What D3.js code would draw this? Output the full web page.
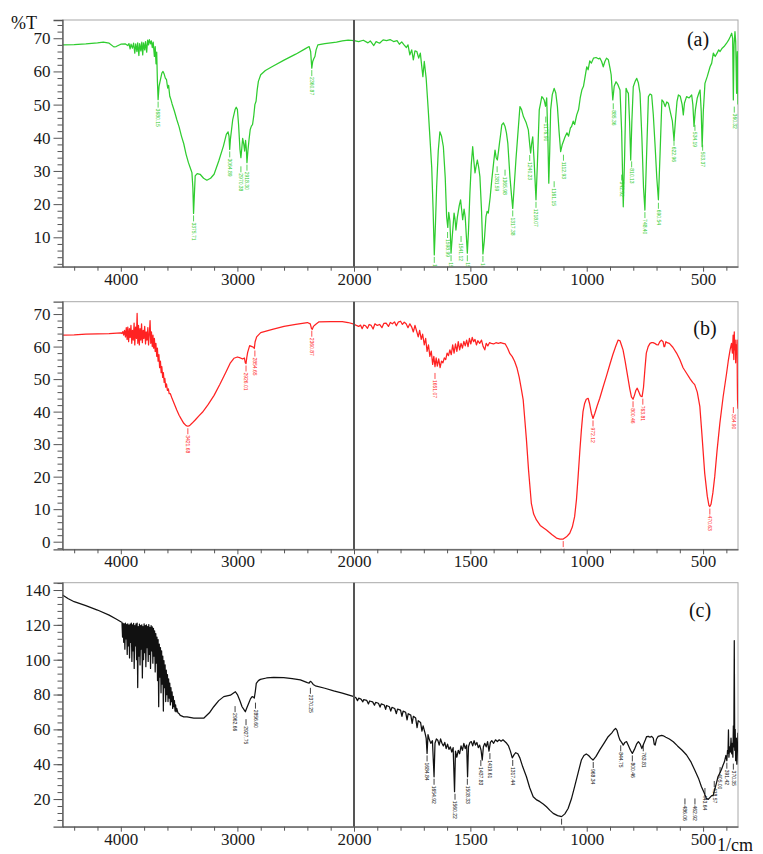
<!DOCTYPE html>
<html>
<head>
<meta charset="utf-8">
<script src="https://cdn.jsdelivr.net/npm/d3@7"></script>
<style>
  body { margin: 0; background: #fff; }
  text { font-family: "Liberation Serif", "Times New Roman", serif; }
</style>
</head>
<body>
<svg id="chart" width="763" height="854"></svg>
<script>
// wavenumber (1/cm), %T
const specA = [
  [4500, 68.0], [4400, 68.1], [4300, 68.3], [4200, 68.6], [4150, 68.8], [4100, 68.5], [4060, 67.4], [4040, 67.5],
  [4000, 68.2], [3960, 68.3], [3940, 67.8], [3930, 68.4], [3920, 66.8], [3912, 68.2], [3900, 67.0], [3890, 68.5],
  [3880, 65.5], [3872, 68.3], [3862, 66.0], [3855, 68.6], [3845, 64.8], [3838, 68.4], [3828, 66.2], [3820, 68.8],
  [3812, 65.0], [3805, 68.6], [3795, 66.5], [3788, 69.0], [3778, 65.8], [3770, 69.4], [3762, 68.0], [3755, 69.6],
  [3745, 68.3], [3738, 69.2], [3730, 67.2], [3722, 68.8], [3712, 64.5], [3705, 67.5], [3698, 62.3], [3692, 65.8],
  [3686, 57.0], [3680, 51.5], [3672, 55.5], [3660, 57.5], [3648, 59.5], [3638, 60.0], [3628, 59.2], [3618, 58.0],
  [3608, 57.5], [3598, 55.0], [3590, 55.8], [3580, 52.5], [3570, 51.5], [3560, 50.2], [3540, 48.0], [3520, 45.5],
  [3500, 43.3], [3480, 40.5], [3460, 38.2], [3440, 35.0], [3420, 32.5], [3400, 30.5], [3390, 29.5], [3382, 25.0],
  [3376, 17.2], [3370, 22.0], [3362, 28.5], [3345, 29.2], [3320, 29.0], [3290, 27.8], [3262, 27.2], [3230, 27.8],
  [3200, 29.0], [3160, 33.0], [3120, 37.5], [3095, 41.0], [3080, 41.8], [3072, 40.5], [3066, 36.5], [3060, 39.5],
  [3040, 45.5], [3020, 48.5], [3010, 49.2], [3000, 48.5], [2990, 44.0], [2978, 36.5], [2970, 34.0], [2962, 37.0],
  [2955, 39.8], [2945, 38.0], [2938, 36.0], [2930, 39.2], [2924, 37.0], [2918, 32.5], [2910, 36.0], [2900, 39.5],
  [2890, 42.5], [2880, 43.5], [2870, 44.0], [2860, 46.5], [2850, 50.0], [2840, 51.0], [2830, 54.5], [2820, 57.0],
  [2800, 59.0], [2760, 60.3], [2700, 61.5], [2600, 63.4], [2500, 65.2], [2420, 66.8], [2385, 67.5], [2372, 66.0],
  [2362, 61.0], [2354, 63.0], [2345, 63.8], [2335, 64.5], [2325, 66.5], [2310, 68.0], [2250, 68.4], [2150, 68.8],
  [2100, 69.2], [2050, 69.4], [2000, 69.3],
  [1980, 69.0], [1960, 69.4], [1940, 68.6], [1930, 69.2], [1915, 67.8], [1905, 69.0], [1890, 68.5], [1875, 69.5],
  [1860, 69.3], [1845, 69.6], [1830, 69.0], [1815, 69.3], [1805, 68.2], [1795, 68.9], [1785, 68.0], [1775, 67.2],
  [1768, 68.0], [1760, 65.0], [1752, 66.5], [1745, 63.5], [1738, 66.2], [1730, 66.0], [1722, 64.0], [1715, 65.5],
  [1708, 61.0], [1704, 58.4], [1698, 63.0], [1690, 58.0], [1681, 48.4], [1672, 38.0], [1666, 31.0], [1660, 18.0],
  [1655, 4.7], [1650, 14.0], [1645, 25.0], [1638, 36.0], [1631, 41.8], [1624, 40.5], [1616, 37.3], [1608, 28.0],
  [1602, 16.2], [1597, 13.0], [1593, 17.5], [1588, 15.0], [1583, 5.2], [1578, 10.0], [1570, 17.3], [1566, 15.5],
  [1562, 12.2], [1556, 16.0], [1548, 19.5], [1542, 21.3], [1537, 18.0], [1533, 15.3], [1527, 18.5], [1522, 16.0],
  [1517, 10.0], [1513, 5.2], [1508, 12.0], [1502, 23.3], [1496, 32.0], [1490, 37.3], [1485, 33.0], [1480, 29.4],
  [1475, 31.5], [1470, 33.3], [1464, 31.0], [1459, 28.3], [1452, 18.0], [1446, 5.0], [1440, 9.0], [1433, 16.2],
  [1428, 17.8], [1423, 17.3], [1415, 22.0], [1408, 27.3], [1400, 32.5], [1394, 36.3], [1389, 34.0], [1384, 33.3],
  [1379, 36.0], [1375, 38.3], [1370, 41.0], [1365, 43.9], [1358, 44.5], [1351, 43.4], [1345, 41.5], [1339, 38.3],
  [1330, 28.3], [1323, 22.5], [1318, 18.7], [1312, 25.0], [1304, 33.6], [1295, 42.0], [1287, 49.4], [1280, 48.5],
  [1272, 46.4], [1260, 44.5], [1251, 42.4], [1245, 38.0], [1241, 35.4], [1237, 38.0], [1232, 40.3], [1226, 33.0],
  [1218, 21.3], [1212, 32.0], [1204, 48.4], [1198, 50.5], [1193, 52.4], [1188, 52.0], [1183, 51.4], [1177, 49.5],
  [1172, 52.0], [1167, 40.0], [1163, 26.3], [1159, 36.0], [1155, 48.4], [1148, 53.0], [1140, 54.9], [1133, 53.5],
  [1126, 49.4], [1119, 42.0], [1112, 35.8], [1105, 38.0], [1093, 40.3], [1085, 41.5], [1078, 40.5], [1070, 43.0],
  [1065, 43.4], [1058, 45.0], [1052, 44.0], [1043, 46.9], [1035, 48.5], [1028, 52.0], [1021, 54.4], [1014, 55.5],
  [1008, 58.0], [1000, 61.4], [994, 60.5], [987, 63.2], [980, 62.5], [971, 64.0], [960, 64.2], [950, 63.8],
  [943, 64.0], [936, 63.0], [929, 61.4], [922, 63.0], [915, 64.0], [907, 63.5], [900, 61.0], [895, 59.0],
  [888, 51.4], [882, 55.5], [874, 56.9], [866, 56.0], [857, 54.4], [850, 42.0], [843, 19.2], [837, 35.0],
  [831, 54.9], [826, 54.0], [821, 53.4], [816, 45.0], [811, 33.3], [806, 45.0], [800, 55.4], [792, 57.0],
  [785, 57.9], [778, 56.5], [771, 53.4], [763, 40.0], [756, 25.0], [750, 18.2], [744, 32.0], [735, 52.4],
  [728, 53.2], [721, 52.9], [714, 47.0], [706, 37.3], [699, 28.0], [692, 21.3], [685, 35.0], [677, 51.4],
  [670, 50.8], [663, 49.4], [656, 50.8], [649, 50.4], [640, 47.5], [632, 45.0], [625, 39.3], [618, 46.0],
  [612, 51.0], [606, 52.9], [598, 52.5], [590, 50.0], [585, 46.9], [580, 50.5], [571, 52.4], [560, 52.0],
  [549, 52.9], [544, 50.0], [539, 43.4], [533, 48.5], [525, 52.0], [518, 53.5], [513, 54.4], [508, 48.0],
  [504, 37.3], [499, 48.0], [492, 56.4], [482, 58.5], [470, 61.4], [463, 62.5], [456, 65.5], [448, 64.5],
  [440, 65.5], [433, 66.5], [427, 66.0], [418, 67.0], [410, 67.5], [399, 68.5], [390, 69.5], [383, 70.5],
  [377, 71.5], [373, 70.0], [370, 51.4], [367, 68.0], [363, 72.0], [360, 69.0], [356, 53.4], [353, 66.0],
  [350, 50.0]
];

const specB = [
  [4500, 63.5], [4400, 63.6], [4300, 63.8], [4200, 63.9], [4100, 64.0], [4000, 64.2], [3990, 64.0], [3982, 64.6],
  [3975, 63.5], [3968, 65.0], [3960, 63.0], [3953, 65.8], [3946, 62.2], [3940, 66.0], [3933, 61.5], [3926, 65.5],
  [3920, 62.8], [3913, 66.5], [3906, 61.0], [3900, 65.0], [3893, 62.0], [3886, 67.2], [3880, 60.5], [3873, 66.0],
  [3866, 62.5], [3860, 70.2], [3854, 61.0], [3848, 66.5], [3841, 60.5], [3835, 65.5], [3828, 62.0], [3822, 67.0],
  [3815, 61.2], [3808, 65.0], [3802, 62.5], [3795, 66.2], [3788, 60.8], [3782, 64.5], [3775, 62.0], [3768, 65.8],
  [3762, 60.5], [3755, 64.0], [3749, 68.0], [3743, 61.0], [3737, 64.5], [3730, 60.0], [3724, 63.5], [3718, 59.5],
  [3712, 62.5], [3705, 58.5], [3699, 61.0], [3692, 57.0], [3686, 59.5], [3680, 55.5], [3673, 57.5], [3667, 53.5],
  [3660, 55.5], [3654, 52.0], [3648, 53.8], [3641, 50.5], [3635, 52.0], [3628, 49.0], [3622, 50.2], [3615, 47.5],
  [3608, 48.5], [3600, 46.5], [3592, 47.0], [3585, 45.5], [3575, 45.5], [3560, 44.0], [3540, 42.3], [3520, 40.5],
  [3500, 38.9], [3480, 37.6], [3460, 36.4], [3440, 35.7], [3425, 35.5], [3410, 35.7], [3390, 36.4], [3360, 37.5],
  [3330, 38.7], [3300, 39.8], [3250, 42.2], [3200, 45.0], [3150, 48.4], [3100, 52.0], [3060, 55.0], [3030, 56.4],
  [3000, 56.8], [2975, 56.5], [2955, 56.2], [2940, 56.5], [2932, 55.0], [2926, 54.8], [2920, 56.5], [2912, 58.2],
  [2895, 60.3], [2875, 60.0], [2862, 59.8], [2855, 59.4], [2848, 61.5], [2835, 63.0], [2800, 64.3], [2700, 65.3],
  [2600, 66.2], [2500, 66.8], [2400, 67.4], [2375, 67.0], [2365, 65.6], [2358, 65.3], [2348, 66.2], [2330, 66.8],
  [2300, 67.6], [2200, 67.7], [2100, 67.7], [2050, 67.4], [2000, 66.9],
  [1990, 66.5], [1980, 66.2], [1972, 66.6], [1965, 65.5], [1958, 66.6], [1950, 66.4], [1942, 65.6], [1935, 66.8],
  [1926, 66.5], [1918, 65.4], [1910, 67.0], [1900, 66.5], [1890, 66.8], [1880, 65.8], [1872, 67.1], [1862, 67.2],
  [1852, 66.2], [1844, 67.4], [1835, 67.0], [1826, 67.6], [1818, 66.4], [1810, 67.5], [1800, 67.8], [1792, 66.8],
  [1784, 67.5], [1776, 67.0], [1768, 65.8], [1760, 67.0], [1752, 66.0], [1745, 64.5], [1738, 66.5], [1731, 64.8],
  [1724, 63.0], [1718, 65.0], [1711, 62.2], [1705, 63.8], [1698, 60.5], [1692, 62.5], [1686, 58.5], [1680, 60.5],
  [1674, 57.0], [1668, 58.6], [1662, 54.5], [1657, 57.0], [1652, 53.8], [1647, 56.5], [1642, 54.0], [1636, 56.2],
  [1630, 53.5], [1624, 55.5], [1618, 55.0], [1612, 56.5], [1606, 56.0], [1600, 58.0], [1594, 57.2], [1588, 59.0],
  [1582, 57.5], [1576, 60.5], [1570, 58.0], [1564, 60.8], [1558, 58.5], [1552, 61.5], [1546, 59.0], [1540, 61.0],
  [1534, 59.5], [1528, 61.6], [1522, 60.2], [1516, 62.0], [1510, 60.0], [1504, 62.5], [1498, 60.8], [1492, 62.8],
  [1486, 61.5], [1480, 62.2], [1474, 60.5], [1468, 61.8], [1460, 61.0], [1452, 62.0], [1445, 60.0], [1438, 59.0],
  [1432, 61.0], [1425, 60.2], [1418, 61.2], [1410, 61.0], [1400, 60.8], [1390, 61.2], [1380, 61.0], [1370, 61.2],
  [1360, 61.0], [1350, 60.8], [1340, 59.5], [1330, 57.8], [1320, 56.9], [1310, 55.5], [1300, 53.5], [1290, 50.5],
  [1280, 46.5], [1273, 43.6], [1266, 37.5], [1259, 31.3], [1250, 22.0], [1238, 11.8], [1228, 8.5], [1216, 6.7],
  [1200, 5.0], [1185, 4.2], [1173, 3.6], [1150, 2.2], [1130, 1.1], [1115, 0.8], [1101, 0.8], [1087, 1.5],
  [1073, 2.6], [1062, 4.5], [1052, 7.7], [1044, 13.0], [1037, 20.0], [1030, 27.5], [1023, 34.3], [1016, 40.0],
  [1009, 42.5], [1002, 43.8], [994, 44.1], [988, 42.5], [980, 39.5], [973, 37.9], [965, 39.5], [955, 41.8],
  [944, 44.1], [930, 47.5], [915, 51.0], [901, 54.4], [888, 57.5], [875, 60.2], [865, 62.0], [857, 61.8],
  [851, 60.5], [844, 59.0], [835, 55.5], [828, 52.5], [822, 50.0], [815, 47.0], [808, 44.5], [801, 43.8],
  [795, 45.0], [789, 46.5], [783, 47.2], [776, 46.0], [769, 44.8], [762, 44.6], [756, 47.5], [750, 53.0],
  [744, 58.0], [736, 60.0], [728, 61.0], [721, 61.2], [715, 61.2], [708, 61.0], [700, 60.6], [693, 60.5],
  [686, 61.5], [679, 62.0], [672, 61.5], [668, 60.0], [665, 60.0], [660, 61.5], [655, 61.2], [645, 61.0],
  [630, 59.8], [614, 58.0], [600, 56.0], [586, 53.5], [571, 51.8], [555, 50.0], [545, 49.0], [536, 48.3],
  [525, 46.0], [514, 41.6], [505, 33.0], [493, 21.0], [482, 14.0], [475, 11.2], [471, 10.8], [466, 11.5],
  [458, 15.0], [450, 20.0], [440, 28.0], [428, 36.4], [414, 44.5], [399, 51.8], [392, 55.5], [384, 59.0],
  [378, 61.0], [374, 58.0], [371, 63.5], [368, 56.0], [366, 64.5], [364, 59.0], [362, 62.0], [360, 55.0],
  [358, 60.5], [356, 58.0], [354, 62.0], [353, 50.0], [352, 43.6], [350, 40.9]
];

const specC = [
  [4500, 137.1], [4450, 135.0], [4400, 133.3], [4300, 131.0], [4200, 128.5], [4100, 125.6], [4040, 123.4], [4000, 121.8],
  [3990, 121.5], [3985, 113.0], [3980, 120.8], [3975, 110.0], [3970, 120.5], [3965, 106.0], [3960, 121.0], [3955, 112.0],
  [3950, 120.2], [3945, 103.0], [3940, 120.6], [3935, 108.0], [3930, 119.8], [3925, 101.0], [3920, 120.4], [3915, 110.0],
  [3910, 121.0], [3905, 99.0], [3900, 120.0], [3895, 105.0], [3890, 120.8], [3885, 95.0], [3880, 119.5], [3875, 108.0],
  [3870, 120.5], [3865, 100.0], [3860, 121.0], [3855, 84.0], [3850, 119.0], [3845, 102.0], [3840, 120.4], [3835, 97.0],
  [3830, 119.6], [3825, 106.0], [3820, 120.0], [3815, 89.5], [3810, 119.0], [3805, 100.0], [3800, 120.5], [3795, 104.0],
  [3790, 119.5], [3785, 96.0], [3780, 120.0], [3775, 107.0], [3770, 119.0], [3765, 99.0], [3760, 120.2], [3755, 103.0],
  [3750, 118.5], [3745, 95.0], [3740, 119.5], [3735, 105.0], [3730, 118.8], [3725, 98.0], [3720, 118.0], [3715, 102.0],
  [3710, 116.5], [3705, 93.0], [3700, 115.0], [3695, 98.0], [3690, 113.0], [3685, 88.0], [3680, 111.5], [3675, 73.0],
  [3670, 109.0], [3665, 90.0], [3660, 107.0], [3655, 81.0], [3650, 105.0], [3645, 86.0], [3640, 102.0], [3635, 70.5],
  [3630, 99.5], [3625, 84.0], [3620, 97.0], [3615, 76.0], [3610, 94.0], [3605, 80.0], [3600, 91.5], [3595, 76.0],
  [3590, 89.0], [3585, 78.0], [3580, 86.5], [3575, 74.0], [3570, 84.0], [3565, 76.0], [3560, 81.5], [3555, 72.0],
  [3550, 79.0], [3545, 73.0], [3540, 76.5], [3535, 70.5], [3530, 74.0], [3525, 70.0], [3520, 72.0], [3510, 69.5],
  [3500, 69.0], [3490, 68.0], [3475, 67.6], [3460, 67.2], [3432, 67.2], [3374, 66.4], [3289, 66.4], [3240, 69.5],
  [3203, 73.0], [3160, 76.5], [3117, 78.8], [3060, 79.6], [3030, 81.0], [3017, 81.6], [3000, 80.0], [2980, 76.7],
  [2960, 73.0], [2945, 71.5], [2932, 70.1], [2918, 72.5], [2903, 75.0], [2888, 77.5], [2874, 78.8], [2862, 78.5],
  [2855, 78.0], [2846, 82.0], [2838, 86.4], [2820, 88.0], [2803, 88.7], [2750, 89.5], [2689, 89.9], [2603, 89.7],
  [2530, 89.2], [2460, 88.4], [2400, 86.8], [2385, 86.6], [2375, 87.6], [2365, 87.2], [2350, 85.8], [2331, 85.0],
  [2250, 83.6], [2174, 82.1], [2100, 80.8], [2050, 79.8], [2000, 78.8],
  [1992, 78.2], [1985, 76.5], [1980, 77.9], [1970, 77.4], [1962, 75.8], [1958, 77.1], [1945, 76.6], [1938, 74.6],
  [1933, 76.3], [1920, 75.8], [1912, 73.9], [1907, 75.5], [1895, 75.0], [1888, 72.8], [1883, 74.6], [1870, 74.0],
  [1864, 71.5], [1860, 73.7], [1848, 73.0], [1842, 70.5], [1837, 72.6], [1825, 72.0], [1818, 69.0], [1813, 71.6],
  [1800, 71.0], [1794, 67.5], [1789, 70.5], [1778, 69.8], [1772, 65.5], [1767, 69.0], [1756, 68.2], [1750, 63.5],
  [1745, 67.5], [1735, 66.5], [1729, 61.0], [1724, 65.0], [1714, 64.0], [1708, 59.0], [1703, 62.0], [1695, 58.0],
  [1690, 55.0], [1686, 46.2], [1682, 57.0], [1676, 54.0], [1670, 52.0], [1663, 53.5], [1656, 32.8], [1652, 52.0],
  [1646, 54.5], [1640, 53.8], [1634, 51.0], [1628, 54.5], [1622, 52.0], [1616, 50.5], [1610, 52.5], [1604, 49.0],
  [1598, 51.5], [1592, 48.5], [1586, 50.0], [1580, 47.0], [1574, 49.5], [1568, 24.2], [1564, 47.5], [1558, 44.0],
  [1552, 48.0], [1546, 46.0], [1540, 50.5], [1534, 48.0], [1528, 52.0], [1522, 49.0], [1516, 51.0], [1512, 32.8],
  [1508, 50.0], [1502, 52.5], [1496, 53.0], [1490, 50.5], [1484, 53.5], [1478, 51.0], [1472, 52.5], [1466, 49.5],
  [1460, 51.0], [1454, 48.0], [1449, 42.4], [1444, 50.0], [1438, 52.0], [1432, 50.0], [1426, 53.0], [1420, 47.5],
  [1414, 52.5], [1408, 53.5], [1400, 52.0], [1392, 54.0], [1384, 53.0], [1376, 54.0], [1368, 53.2], [1360, 54.0],
  [1352, 53.0], [1344, 52.0], [1336, 50.5], [1328, 47.5], [1320, 43.6], [1312, 45.5], [1305, 46.6], [1296, 46.0],
  [1287, 43.5], [1275, 38.5], [1259, 32.8], [1245, 26.5], [1230, 21.3], [1215, 19.5], [1201, 18.5], [1187, 17.2],
  [1173, 15.6], [1158, 13.5], [1144, 11.8], [1125, 10.5], [1108, 9.9], [1094, 11.5], [1080, 14.6], [1066, 20.0],
  [1052, 27.1], [1037, 35.0], [1023, 42.4], [1012, 45.0], [1002, 45.9], [992, 45.0], [982, 43.5], [973, 42.4],
  [960, 44.5], [944, 48.2], [926, 52.0], [908, 55.8], [892, 58.0], [884, 59.5], [876, 60.6], [870, 59.5],
  [863, 56.0], [857, 53.8], [850, 52.5], [843, 51.0], [836, 52.5], [829, 53.0], [822, 51.0], [812, 48.0],
  [804, 46.2], [795, 48.5], [786, 51.5], [778, 52.9], [770, 51.5], [763, 49.0], [756, 51.5], [748, 54.0],
  [743, 55.8], [735, 56.0], [728, 55.5], [721, 56.0], [714, 55.0], [710, 51.5], [706, 51.0], [700, 54.5],
  [693, 56.0], [685, 56.3], [678, 56.5], [671, 56.3], [660, 55.5], [645, 54.5], [628, 52.9], [610, 50.5],
  [590, 48.0], [571, 45.3], [553, 41.5], [536, 36.7], [520, 32.0], [507, 27.1], [495, 23.5], [486, 20.4],
  [478, 19.8], [470, 21.0], [463, 22.0], [457, 22.0], [450, 25.5], [443, 29.0], [436, 32.8], [428, 35.0],
  [421, 37.0], [414, 39.5], [408, 41.5], [402, 45.0], [398, 42.0], [395, 48.0], [393, 46.2], [391, 59.7],
  [389, 44.0], [386, 50.0], [383, 47.0], [380, 55.0], [377, 46.0], [374, 52.0], [372, 44.0], [370, 62.0],
  [368, 50.0], [366, 111.0], [364, 48.0], [362, 60.0], [360, 42.0], [357, 55.0], [355, 40.0], [352, 50.0],
  [350, 58.0]
];

// peak annotations: wavenumber, %T where the marker starts, printed value
const labelsA = [
  [3680, 51.5, '3680.15'], [3376, 17.2, '3375.71'], [3066, 36.5, '3064.89'], [2970, 32.0, '2970.38'],
  [2918, 32.5, '2918.30'], [2362, 61.0, '2360.87'], [1655, 4.7, '1655.15'], [1598, 12.2, '1598.99'],
  [1583, 5.2, '1583.56'], [1540, 11.0, '1541.12'], [1513, 5.2, '1512.19'], [1446, 5.0, '1444.68'],
  [1385, 32.0, '1381.59'], [1351, 31.0, '1365.98'], [1318, 18.7, '1317.38'], [1245, 35.4, '1240.23'],
  [1218, 21.3, '1218.07'], [1176, 47.0, '1176.90'], [1140, 27.5, '1161.15'], [1100, 35.5, '1112.93'],
  [886, 51.0, '885.36'], [850, 29.5, '842.92'], [807, 33.5, '810.13'], [750, 18.2, '748.40'],
  [692, 21.0, '690.54'], [625, 40.0, '622.96'], [535, 44.5, '534.19'], [502, 38.5, '503.37'],
  [366, 50.0, '360.32']
];
const labelsB = [
  [3425, 35.5, '3421.68'], [2926, 54.8, '2926.01'], [2850, 59.4, '2854.65'], [2362, 65.5, '2360.87'],
  [1652, 52.5, '1651.07'], [1101, 0.8, '1101.35'], [973, 37.9, '972.12'], [801, 43.8, '800.46'],
  [759, 44.6, '763.81'], [471, 10.8, '470.63'], [370, 42.0, '354.90']
];
const labelsC = [
  [3020, 74.5, '2962.66'], [2926, 67.0, '2927.75'], [2845, 76.5, '2856.60'], [2374, 85.0, '2370.25'],
  [1686, 46.2, '1684.84'], [1656, 32.8, '1654.92'], [1566, 24.2, '1560.22'], [1513, 32.8, '1508.33'],
  [1455, 43.5, '1437.83'], [1416, 47.5, '1419.61'], [1318, 43.6, '1317.44'], [1108, 9.9, '1103.21'],
  [972, 42.4, '968.34'], [854, 52.0, '844.75'], [804, 46.2, '800.46'], [757, 52.0, '763.81'],
  [578, 21.5, '486.06'], [535, 21.5, '462.92'], [492, 27.5, '443.64'], [452, 31.5, '418.57'],
  [427, 39.5, '405.00'], [398, 42.0, '391.42'], [370, 41.5, '370.35']
];

const xTicks = [4000, 3000, 2000, 1500, 1000, 500];
const yTicksA = [10, 20, 30, 40, 50, 60, 70];
const yTicksB = [0, 10, 20, 30, 40, 50, 60, 70];
const yTicksC = [20, 40, 60, 80, 100, 120, 140];

const svg = d3.select('#chart');
const left = 62.5;
const right = 738;

// broken axis: 4500-2000 and 2000-350 share the width, right half stretched 2x
const x = d3.scaleLinear()
  .domain([4500, 2000, 350])
  .range([left, 354, right]);

const xMinor = d3.range(4400, 2000, -200).filter((d) => d % 1000 !== 0)
  .concat(d3.range(1900, 350, -100).filter((d) => d % 500 !== 0));

const panels = [
  { key: 'a', data: specA, labels: labelsA, color: '#2fcc2f', top: 20, bottom: 266.7,
    domain: [1.14, 75.5], ticks: yTicksA, minor: d3.range(2, 76, 2), tag: '(a)', tagX: 698, tagY: 46 },
  { key: 'b', data: specB, labels: labelsB, color: '#ff2222', top: 301.7, bottom: 549.3,
    domain: [-2.34, 73.8], ticks: yTicksB, minor: d3.range(-2, 74, 2), tag: '(b)', tagX: 705, tagY: 335 },
  { key: 'c', data: specC, labels: labelsC, color: '#111111', top: 582.7, bottom: 826.7,
    domain: [4.13, 144.2], ticks: yTicksC, minor: d3.range(8, 145, 4), tag: '(c)', tagX: 700, tagY: 617 },
];

const serif = '"Liberation Serif", "Times New Roman", serif';

panels.forEach((p) => {
  const y = d3.scaleLinear().domain(p.domain).range([p.bottom, p.top]);

  svg.append('clipPath')
    .attr('id', `clip-${p.key}`)
    .append('rect')
    .attr('x', left)
    .attr('y', p.top)
    .attr('width', right - left)
    .attr('height', p.bottom - p.top);

  svg.append('rect')
    .attr('x', left)
    .attr('y', p.top)
    .attr('width', right - left)
    .attr('height', p.bottom - p.top)
    .attr('fill', 'none')
    .attr('stroke', '#a8a8a8')
    .attr('stroke-width', 1);

  const plot = svg.append('g').attr('clip-path', `url(#clip-${p.key})`);

  plot.append('path')
    .datum(p.data)
    .attr('fill', 'none')
    .attr('stroke', p.color)
    .attr('stroke-width', 1.25)
    .attr('stroke-linejoin', 'round')
    .attr('d', d3.line().x((d) => x(d[0])).y((d) => y(d[1])));

  const marks = plot.selectAll('g.peak')
    .data(p.labels)
    .enter().append('g')
    .attr('class', 'peak')
    .attr('transform', (d) => `translate(${x(d[0])},${y(d[1])})`);

  marks.append('line')
    .attr('y1', 2)
    .attr('y2', 8)
    .attr('stroke', p.color)
    .attr('stroke-width', 0.8);

  marks.append('text')
    .attr('transform', 'translate(0,9) rotate(90)')
    .attr('dy', '0.35em')
    .style('font-family', '"Liberation Sans", Arial, sans-serif')
    .style('font-size', '5px')
    .attr('fill', p.color)
    .text((d) => d[2]);

  svg.append('line')
    .attr('x1', x(2000))
    .attr('x2', x(2000))
    .attr('y1', p.top)
    .attr('y2', p.bottom)
    .attr('stroke', '#555')
    .attr('stroke-width', 2);

  const yAxis = svg.append('g')
    .attr('transform', `translate(${left},0)`)
    .call(d3.axisLeft(y).tickValues(p.ticks).tickSize(9).tickPadding(3));
  svg.append('g')
    .attr('transform', `translate(${left},0)`)
    .call(d3.axisLeft(y).tickValues(p.minor.filter((v) => v % 10 !== 0 || p.key === 'c'))
      .tickSize(5).tickFormat(''))
    .call((g) => g.select('.domain').remove());

  const xAxis = svg.append('g')
    .attr('transform', `translate(0,${p.bottom})`)
    .call(d3.axisBottom(x).tickValues(xTicks).tickFormat(d3.format('d'))
      .tickSize(5).tickPadding(1).tickSizeOuter(0));
  svg.append('g')
    .attr('transform', `translate(0,${p.bottom})`)
    .call(d3.axisBottom(x).tickValues(xMinor).tickSize(4).tickFormat(''))
    .call((g) => g.select('.domain').remove());

  [yAxis, xAxis].forEach((g) => {
    g.attr('font-family', serif).attr('font-size', 17);
    g.selectAll('text')
      .style('font-family', serif)
      .style('font-size', '17px')
      .attr('fill', '#1a1a1a');
  });
  svg.selectAll('.domain').attr('stroke', '#555').attr('stroke-width', 1.3);
  svg.selectAll('.tick line').attr('stroke', '#555');

  svg.append('text')
    .attr('x', p.tagX)
    .attr('y', p.tagY)
    .attr('text-anchor', 'middle')
    .style('font-size', '20px')
    .attr('fill', '#111')
    .text(p.tag);
});

svg.append('text')
  .attr('x', 11)
  .attr('y', 29)
  .style('font-size', '18px')
  .attr('fill', '#111')
  .text('%T');

svg.append('text')
  .attr('x', 717)
  .attr('y', 851)
  .style('font-size', '18px')
  .attr('fill', '#111')
  .text('1/cm');
</script>
</body>
</html>
